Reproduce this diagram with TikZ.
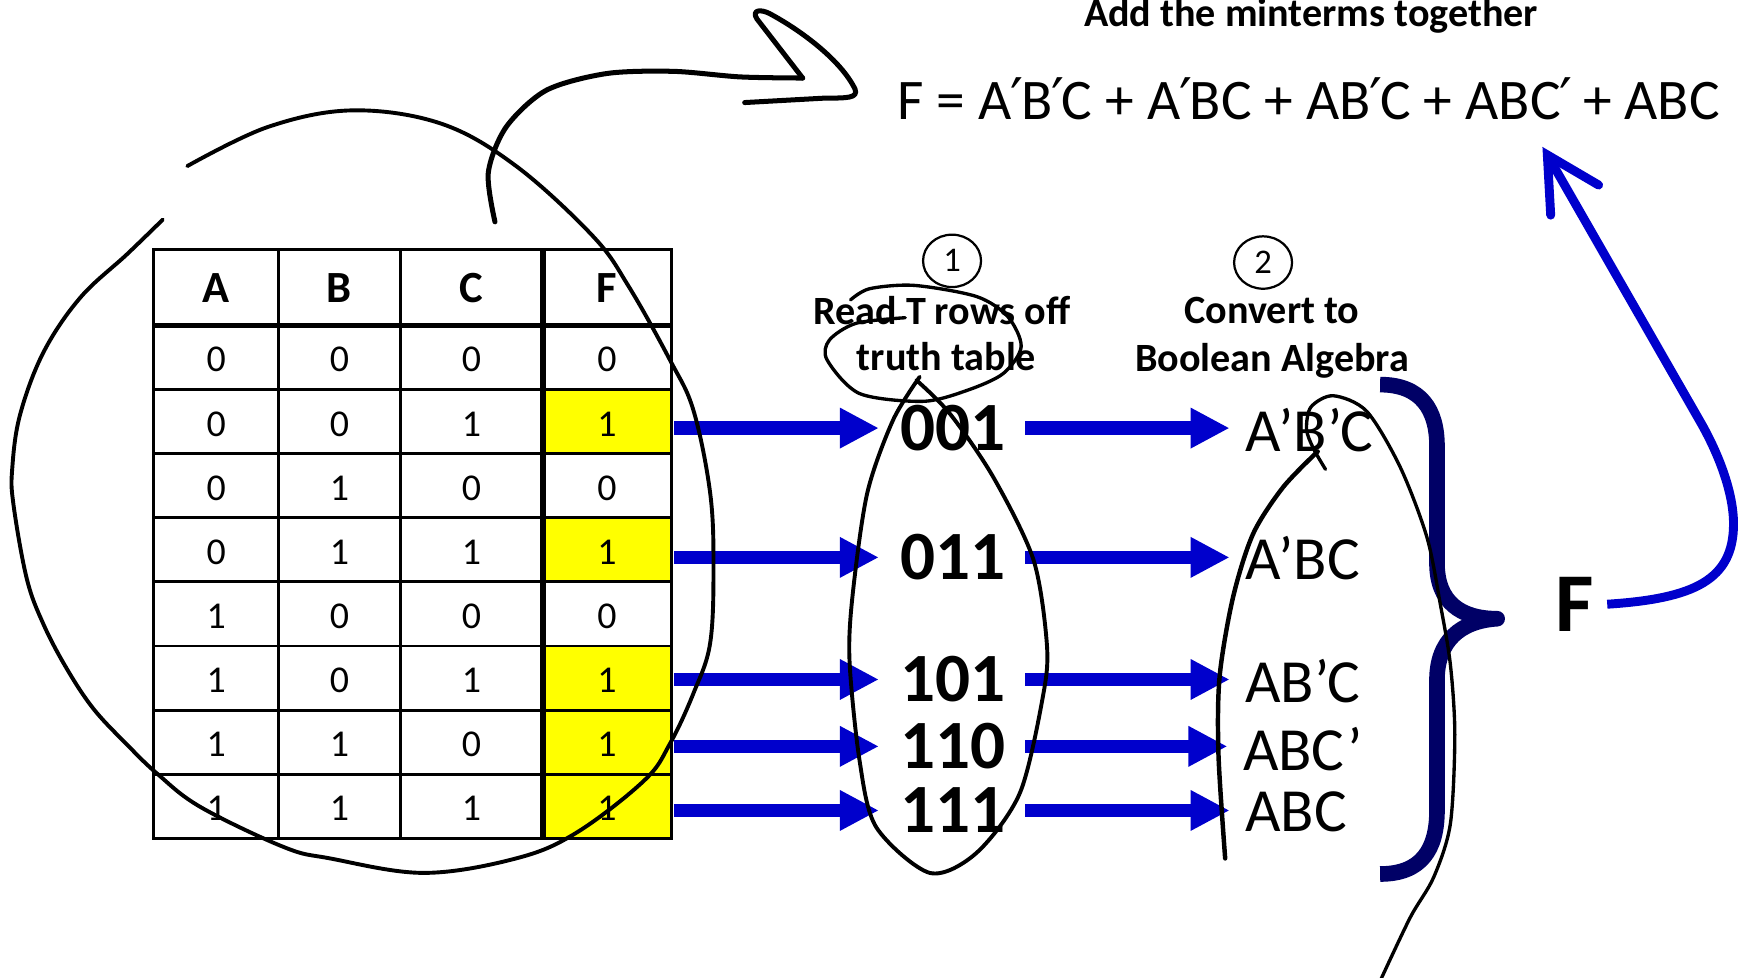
\documentclass[tikz,border=0pt]{standalone}
\usepackage{fontspec}
\setmainfont{Carlito}
\newfontfamily\primefont{DejaVu Sans}
\usetikzlibrary{arrows.meta,shapes.geometric}

\definecolor{flowblue}{RGB}{0,0,204}
\definecolor{bracenavy}{RGB}{0,0,102}
\definecolor{hilite}{RGB}{255,255,0}

\newcommand{\setsz}[1]{\fontsize{#1}{#1}\selectfont}
\newcommand{\prm}{{\primefont\kern-0.02em ′\kern-0.04em}}

\tikzset{
  txt/.style={inner sep=0pt, outer sep=0pt},
  hdr/.style={txt, font=\bfseries\setsz{40}},
  digit/.style={txt, font=\setsz{34}},
  fcell/.style={rectangle, inner sep=0pt, outer sep=0pt, minimum width=115pt, minimum height=57.5pt},
  tabline/.style={black, line width=2.6pt},
  thickrule/.style={black, line width=4.8pt},
  bits/.style={txt, font=\bfseries\setsz{62}},
  term/.style={txt, font=\setsz{55}, anchor=west},
  steptext/.style={txt, font=\bfseries\setsz{36}, anchor=base},
  stepnum/.style={ellipse, draw, line width=2pt, minimum width=52pt, minimum height=47pt, inner sep=0pt, font=\setsz{31}},
  rowarrow/.style={draw=flowblue, line width=12pt, -{Triangle[length=35pt,width=34pt]}},
  ink/.style={black, line width=#1, line cap=round, line join=round},
}

\begin{document}
\begin{tikzpicture}[x=1pt,y=-1pt]
\useasboundingbox (0,0) rectangle (1568,877);
\fill[white] (0,0) rectangle (1568,877);

% ---------- truth table ----------
\node[hdr] (hA) at (194,258) {A};
\node[hdr] (hB) at (304.5,258) {B};
\node[hdr] (hC) at (423,258) {C};
\node[hdr] (hF) at (544.5,258) {F};

\foreach \va/\vb/\vc/\vf/\fc [count=\i] in
  {0/0/0/0/white,0/0/1/1/hilite,0/1/0/0/white,0/1/1/1/hilite,
   1/0/0/0/white,1/0/1/1/hilite,1/1/0/1/hilite,1/1/1/1/hilite}{
  \pgfmathsetmacro\yy{263.25+57.5*\i}
  \node[fcell, fill=\fc] (f\i) at (544.5,\yy) {};
  \node[digit] (a\i) at (194,\yy+2) {\va};
  \node[digit] (b\i) at (304.5,\yy+2) {\vb};
  \node[digit] (c\i) at (423,\yy+2) {\vc};
  \node[digit] (v\i) at (544.5,\yy+2) {\vf};
}

\draw[tabline] (138,224) rectangle (602,752);
\draw[tabline] (250,224) -- (250,752) (359,224) -- (359,752);
\foreach \y in {349.5,407,464.5,522,579.5,637,694.5}
  \draw[tabline] (138,\y) -- (602,\y);
\draw[thickrule] (138,292) -- (602,292);
\draw[thickrule] (487,224) -- (487,752);

% ---------- step headings ----------
\node[anchor=base, txt, font=\bfseries\setsz{36}] (title) at (1176,24) {Add the minterms together};
\node[anchor=base west, txt, font=\setsz{51.5}] (sum) at (805,107)
  {F = A\prm B\prm C + A\prm BC + AB\prm C + ABC\prm{} + ABC};

\node[stepnum] (n1) at (854,234) {1};
\node[stepnum] (n2) at (1133,235.5) {2};
\node[steptext] (s1a) at (845,291) {Read T rows off};
\node[steptext] (s1b) at (849,332) {truth table};
\node[steptext] (s2a) at (1141,290) {Convert to};
\node[steptext] (s2b) at (1141,333.5) {Boolean Algebra};

% ---------- selected rows and their minterms ----------
\node[bits] (r1) at (854.5,384) {001};
\node[bits] (r2) at (854.5,500) {011};
\node[bits] (r3) at (854.5,609.5) {101};
\node[bits] (r4) at (854.5,669.5) {110};
\node[bits] (r5) at (854.5,727) {111};

\node[term] (m1) at (1117,386) {A’B’C};
\node[term] (m2) at (1117,500.5) {A’BC};
\node[term] (m3) at (1117,611) {AB’C};
\node[term] (m4) at (1115,672) {ABC’};
\node[term] (m5) at (1117,728) {ABC};

\foreach \k/\rr in {1/2,2/4,3/6,4/7,5/8}{
  \draw[rowarrow, shorten <=3pt, shorten >=19pt] (f\rr.east |- r\k.west) -- (r\k.west);
  \draw[rowarrow, shorten <=18pt, shorten >=14pt] (r\k.east) -- (r\k.east -| m\k.west);
}

% ---------- brace and result ----------
\draw[bracenavy, line width=14pt, line join=round]
  (1238,345) .. controls (1275,345) and (1289,368) .. (1289,400) -- (1289,505)
  .. controls (1289,540) and (1310,555) .. (1343,555)
  .. controls (1310,557) and (1289,575) .. (1289,610) -- (1289,727)
  .. controls (1289,762) and (1275,784) .. (1238,784);

\node[txt, font=\bfseries\setsz{75}] (fl) at (1412.5,542) {F};
\coordinate (ftip) at (1388,139);
\draw[flowblue, line width=8pt]
  ([xshift=12pt]fl.east) .. controls (1520,537) and (1555,520) .. (1555,470)
  .. controls (1555,440) and (1540,404) .. (1525,378) -- (ftip);
\draw[flowblue, line width=8pt, line cap=round, line join=miter]
  (1391,193) -- (ftip) -- (1434,166);

% ---------- hand-drawn annotations ----------
\draw[ink=3.5pt] plot[smooth, tension=0.6] coordinates {
  (168,149) (240,114) (316,99) (396,111) (463,149) (532,212) (564,257)
  (601,323) (622,368) (637,442) (640,508) (637,577) (622,622) (601,667)
  (578,700) (517,747) (463,770) (380,783) (296,770) (255,760) (180,724)
  (141,694) (114,668) (84,636) (60,600) (39,560) (24,519) (12,452)
  (11,420) (18,372) (39,316) (72,267) (114,228) (146,197)};

\draw[ink=4.5pt] plot[smooth] coordinates {
  (444,199) (438,155) (454,114) (490,81) (544,66) (604,64) (664,69) (720,70)};
\draw[ink=4.5pt] (720,70) -- (679,17) .. controls (674,9) and (682,8) .. (690,12)
  .. controls (720,28) and (755,55) .. (767,80)
  .. controls (770,88) and (760,88) .. (740,88) -- (668,92);

\draw[ink=3pt] plot[smooth] coordinates {
  (763,269) (780,259) (820,256) (876,266) (904,284) (916,311) (900,335)
  (868,350) (828,360) (771,353) (742,323) (744,305) (768,290) (812,285)};

\draw[ink=3.5pt] plot[smooth] coordinates {
  (825,338) (801,377) (778,442) (765,532) (762,592) (771,682) (786,742)
  (834,783) (876,765) (915,711) (936,622) (939,577) (927,502) (891,428)
  (852,371) (822,341)};

\draw[ink=4pt] plot[smooth] coordinates {
  (1099,770) (1093,677) (1094,607) (1106,536) (1124,479) (1151,437) (1182,405)};
\draw[ink=3pt] plot[smooth] coordinates {
  (1189,421) (1178,402) (1172,385) (1176,365) (1196,355) (1226,369)
  (1256,419) (1280,482) (1292,542) (1301,596) (1305,659) (1301,739)
  (1286,787) (1265,823) (1238,880)};
\end{tikzpicture}
\end{document}
